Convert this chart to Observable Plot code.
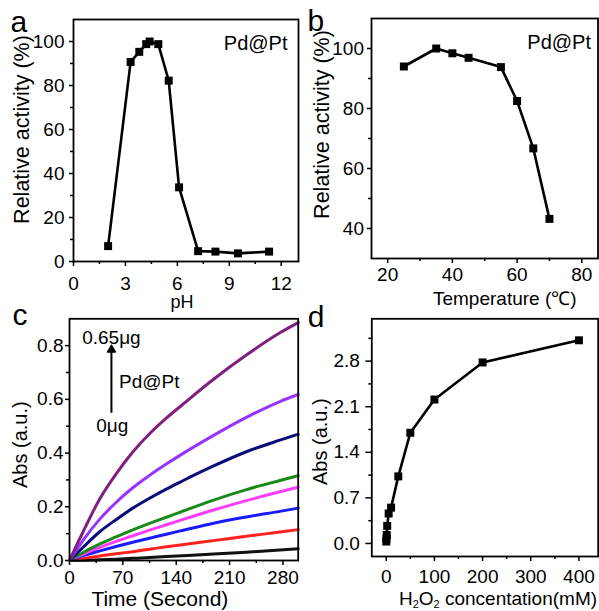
<!DOCTYPE html>
<html><head><meta charset="utf-8">
<script src="https://cdn.jsdelivr.net/npm/d3@7"></script>
<script src="https://cdn.jsdelivr.net/npm/@observablehq/plot@0.6"></script>
<style>
html,body{margin:0;padding:0;background:#fff;}
#root{position:relative;width:599px;height:611px;overflow:hidden;background:#fff;}
#root svg{position:absolute;overflow:visible;}
</style></head><body><div id="root"></div>
<script>
// ---------- Panel a : pH ----------
const phValues   = [2, 3.3, 3.8, 4.2, 4.4, 4.9, 5.5, 6.1, 7.2, 8.2, 9.5, 11.3];
const phActivity = [7, 90.7, 95.3, 98.8, 100, 98.8, 82.2, 33.7, 4.7, 4.5, 3.7, 4.5];
const phTicks = [0, 3, 6, 9, 12];
const phMinorTicks = [1.5, 4.5, 7.5, 10.5];
const actTicksA = [0, 20, 40, 60, 80, 100];
const actMinorA = [10, 30, 50, 70, 90];

// ---------- Panel b : temperature ----------
const temps = [25, 35, 40, 45, 55, 60, 65, 70];
const tempActivity = [94, 100, 98.4, 96.9, 93.8, 82.5, 66.7, 43.2];
const tempTicks = [20, 40, 60, 80];
const tempMinorTicks = [30, 50, 70];
const actTicksB = [40, 60, 80, 100];
const actMinorB = [50, 70, 90];

// ---------- Panel c : kinetics ----------
const times = [0, 18, 40, 61, 83, 105, 127, 148, 189, 232, 276, 300];
const seriesNames = ["s1", "s2", "s3", "s4", "s5", "s6", "s7", "s8"];
const seriesColors = ["#111111", "#ff2020", "#1a1aff", "#ff3cff", "#178a17", "#0c0c78", "#9933ff", "#7f1f7f"];
const absS1 = [0, 0.001, 0.003, 0.005, 0.008, 0.011, 0.015, 0.018, 0.024, 0.031, 0.039, 0.044];
const absS2 = [0, 0.007, 0.017, 0.025, 0.033, 0.042, 0.051, 0.059, 0.074, 0.090, 0.106, 0.115];
const absS3 = [0, 0.018, 0.036, 0.052, 0.068, 0.083, 0.098, 0.112, 0.139, 0.162, 0.183, 0.195];
const absS4 = [0, 0.024, 0.049, 0.071, 0.092, 0.113, 0.133, 0.152, 0.188, 0.223, 0.256, 0.273];
const absS5 = [0, 0.030, 0.062, 0.088, 0.114, 0.138, 0.161, 0.183, 0.225, 0.264, 0.298, 0.316];
const absS6 = [0, 0.050, 0.108, 0.152, 0.195, 0.232, 0.266, 0.296, 0.352, 0.405, 0.448, 0.470];
const absS7 = [0, 0.076, 0.155, 0.216, 0.271, 0.317, 0.359, 0.397, 0.466, 0.533, 0.592, 0.618];
const absS8 = [0, 0.108, 0.231, 0.322, 0.404, 0.472, 0.530, 0.580, 0.675, 0.765, 0.848, 0.886];
const timeTicks = [0, 70, 140, 210, 280];
const timeMinorTicks = [35, 105, 175, 245];
const absTicksC = [0, 0.2, 0.4, 0.6, 0.8];
const absMinorC = [0.1, 0.3, 0.5, 0.7];
// annotation (data units)
const arrowT = 55, arrowFrom = 0.55, arrowTo = 0.785;
const annotLabels = ["0.65\u03bcg", "Pd@Pt", "0\u03bcg"];
const annotT = [55, 65, 56];
const annotV = [0.83, 0.666, 0.50];

// ---------- Panel d : H2O2 ----------
const h2o2 = [0, 0.5, 1, 2, 5, 10, 25, 50, 100, 200, 400];
const absD = [0.03, 0.07, 0.13, 0.27, 0.46, 0.55, 1.03, 1.70, 2.21, 2.78, 3.12];
const h2o2Ticks = [0, 100, 200, 300, 400];
const h2o2MinorTicks = [50, 150, 250, 350];
const absTicksD = [0, 0.7, 1.4, 2.1, 2.8];
const absMinorD = [0.35, 1.05, 1.75, 2.45, 3.15];

const panelLetters = ["a", "b", "c", "d"];
const sampleLabel = "Pd@Pt";

// ----------------------------------------------------------
const font = '"Liberation Sans", Arial, Helvetica, sans-serif';
const baseStyle = {background: "transparent", overflow: "visible", fontFamily: font, fontSize: "19px", color: "black"};
const root = document.getElementById("root");
function place(svg, left, top) { svg.style.left = left + "px"; svg.style.top = top + "px"; root.appendChild(svg); }
const blank = () => "";

function axes(xt, xm, yt, ym, o) {
  return [
    Plot.axisX({ticks: xt, tickSize: 5, tickPadding: o.xPad, label: null, strokeWidth: 1.5, fontSize: 19, tickFormat: o.xFmt}),
    Plot.axisX({ticks: xm, tickSize: 3, label: null, strokeWidth: 1.5, tickFormat: blank}),
    Plot.axisY({ticks: yt, tickSize: o.ySize, tickPadding: o.yPad, label: null, strokeWidth: 1.5, fontSize: 19, tickFormat: o.yFmt}),
    Plot.axisY({ticks: ym, tickSize: 3, label: null, strokeWidth: 1.5, tickFormat: blank})
  ];
}

// Panel a
const dataA = phValues.map((x, i) => ({x, y: phActivity[i]}));
place(Plot.plot({
  width: 300, height: 300, marginLeft: 73, marginRight: 2, marginTop: 19, marginBottom: 39,
  x: {domain: [0, 13], label: null}, y: {domain: [0, 110], label: null},
  style: baseStyle,
  marks: [
    ...axes(phTicks, phMinorTicks, actTicksA, actMinorA, {xPad: 10, ySize: 4, yPad: 5, xFmt: d3.format("d"), yFmt: d3.format("d")}),
    Plot.line(dataA, {x: "x", y: "y", stroke: "black", strokeWidth: 2.6}),
    Plot.dot(dataA, {x: "x", y: "y", symbol: "square", r: 4.5, fill: "black"}),
    Plot.frame({stroke: "black", strokeWidth: 1.8}),
    Plot.text([sampleLabel], {frameAnchor: "top-right", dx: -11, dy: 24, lineAnchor: "middle", textAnchor: "end", fontSize: 20}),
    Plot.text(["pH"], {frameAnchor: "bottom", dx: -4, dy: 41, lineAnchor: "middle", textAnchor: "middle", fontSize: 18}),
    Plot.text(["Relative activity (%)"], {frameAnchor: "left", rotate: -90, dx: -51, dy: -11, textAnchor: "middle", lineAnchor: "middle", fontSize: 21.5}),
    Plot.text([panelLetters[0]], {frameAnchor: "top-left", dx: -63, dy: 3, textAnchor: "start", lineAnchor: "middle", fontSize: 30})
  ]
}), 0, 0);

// Panel b
const dataB = temps.map((x, i) => ({x, y: tempActivity[i]}));
place(Plot.plot({
  width: 299, height: 300, marginLeft: 71, marginRight: 1.5, marginTop: 18, marginBottom: 42,
  x: {domain: [15, 85], label: null}, y: {domain: [30, 110], label: null},
  style: baseStyle,
  marks: [
    ...axes(tempTicks, tempMinorTicks, actTicksB, actMinorB, {xPad: 4, ySize: 4, yPad: 3.5, xFmt: d3.format("d"), yFmt: d3.format("d")}),
    Plot.line(dataB, {x: "x", y: "y", stroke: "black", strokeWidth: 2.6}),
    Plot.dot(dataB, {x: "x", y: "y", symbol: "square", r: 4.5, fill: "black"}),
    Plot.frame({stroke: "black", strokeWidth: 1.8}),
    Plot.text([sampleLabel], {frameAnchor: "top-right", dx: -7, dy: 24, lineAnchor: "middle", textAnchor: "end", fontSize: 20}),
    Plot.text(["Temperature (\u2103)"], {frameAnchor: "bottom", dx: 20, dy: 40, lineAnchor: "middle", textAnchor: "middle", fontSize: 19}),
    Plot.text(["Relative activity (%)"], {frameAnchor: "left", rotate: -90, dx: -49, dy: -14, textAnchor: "middle", lineAnchor: "middle", fontSize: 21.5}),
    Plot.text([panelLetters[1]], {frameAnchor: "top-left", dx: -64, dy: 3, textAnchor: "start", lineAnchor: "middle", fontSize: 30})
  ]
}), 300, 0);

// Panel c
const seriesValues = [absS1, absS2, absS3, absS4, absS5, absS6, absS7, absS8];
const dataC = [];
seriesNames.forEach((s, k) => times.forEach((t, i) => dataC.push({series: s, t, v: seriesValues[k][i]})));
const annot = annotLabels.map((label, i) => ({label, t: annotT[i], v: annotV[i]}));
const arrow = [{t: arrowT, v1: arrowFrom, v2: arrowTo}];
place(Plot.plot({
  width: 300, height: 311, marginLeft: 69, marginRight: 2.3, marginTop: 18.3, marginBottom: 51,
  x: {domain: [0, 300], label: null}, y: {domain: [0, 0.9], label: null},
  color: {type: "ordinal", domain: seriesNames, range: seriesColors},
  style: baseStyle,
  marks: [
    ...axes(timeTicks, timeMinorTicks, absTicksC, absMinorC, {xPad: 5, ySize: 4, yPad: 2, xFmt: d3.format("d"), yFmt: d3.format(".1f")}),
    Plot.line(dataC, {x: "t", y: "v", z: "series", stroke: "series", strokeWidth: 3, curve: "monotone-x"}),
    Plot.frame({stroke: "black", strokeWidth: 1.8}),
    Plot.link(arrow, {x1: "t", x2: "t", y1: "v1", y2: "v2", stroke: "black", strokeWidth: 2}),
    Plot.dot(arrow, {x: "t", y: "v2", symbol: "triangle", r: 3.2, fill: "black", stroke: "black", strokeWidth: 1}),
    Plot.text(annot.filter((d, i) => i !== 1), {x: "t", y: "v", text: "label", textAnchor: "middle", lineAnchor: "middle", fontSize: 19}),
    Plot.text(annot.filter((d, i) => i === 1), {x: "t", y: "v", text: "label", textAnchor: "start", lineAnchor: "middle", fontSize: 19}),
    Plot.text(["Time (Second)"], {frameAnchor: "bottom", dx: -24, dy: 39, lineAnchor: "middle", textAnchor: "middle", fontSize: 21}),
    Plot.text(["Abs (a.u.)"], {frameAnchor: "left", rotate: -90, dx: -49, dy: 5, textAnchor: "middle", lineAnchor: "middle", fontSize: 20}),
    Plot.text([panelLetters[2]], {frameAnchor: "top-left", dx: -57, dy: -3, textAnchor: "start", lineAnchor: "middle", fontSize: 30})
  ]
}), 0, 300);

// Panel d
const dataD = h2o2.map((x, i) => ({x, y: absD[i]}));
const dSvg = Plot.plot({
  width: 299, height: 311, marginLeft: 71.3, marginRight: 1.3, marginTop: 18.3, marginBottom: 55,
  x: {domain: [-30, 440], label: null}, y: {domain: [-0.2, 3.45], label: null},
  style: baseStyle,
  marks: [
    ...axes(h2o2Ticks, h2o2MinorTicks, absTicksD, absMinorD, {xPad: 8, ySize: 6, yPad: 6, xFmt: d3.format("d"), yFmt: d3.format(".1f")}),
    Plot.line(dataD, {x: "x", y: "y", stroke: "black", strokeWidth: 2.6}),
    Plot.dot(dataD, {x: "x", y: "y", symbol: "square", r: 4.5, fill: "black"}),
    Plot.frame({stroke: "black", strokeWidth: 1.8}),
    Plot.text(["Abs (a.u.)"], {frameAnchor: "left", rotate: -90, dx: -51, dy: 4, textAnchor: "middle", lineAnchor: "middle", fontSize: 20}),
    Plot.text([panelLetters[3]], {frameAnchor: "top-left", dx: -64, dy: -1, textAnchor: "start", lineAnchor: "middle", fontSize: 30})
  ]
});
// x title with subscripts
const xTitleD = [["H", false], ["2", true], ["O", false], ["2", true], [" concentation(mM)", false]];
const tt = d3.select(dSvg).append("text")
  .attr("x", 198).attr("y", 305).attr("text-anchor", "middle")
  .attr("font-family", font).attr("font-size", 19).attr("fill", "black");
let low = false;
xTitleD.forEach(([s, sub]) => {
  const sp = tt.append("tspan").text(s);
  if (sub) { sp.attr("font-size", 11); if (!low) { sp.attr("dy", 3); low = true; } }
  else if (low) { sp.attr("dy", -3); low = false; }
});
place(dSvg, 300, 300);
</script></body></html>
